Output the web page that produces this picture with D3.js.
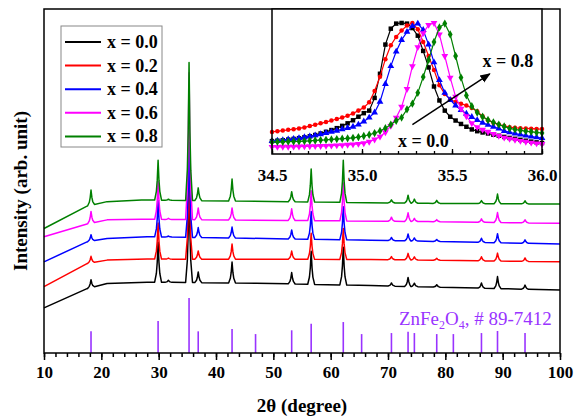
<!DOCTYPE html>
<html>
<head>
<meta charset="utf-8">
<script src="https://cdn.jsdelivr.net/npm/d3@7"></script>
<style>
  body { margin: 0; background: #fff; }
  svg { display: block; }
  text { font-family: "Liberation Serif", "Times New Roman", serif; }
</style>
</head>
<body>
<svg id="chart" width="579" height="420"></svg>
<script>
// XRD patterns of the doped ZnFe2O4 series with a zoom on the (311) reflection.

const series_labels = ["x = 0.0", "x = 0.2", "x = 0.4", "x = 0.6", "x = 0.8"];
const series_colors = ["#000000", "#ff0000", "#0000ff", "#ff00ff", "#008000"];

// reference card ZnFe2O4 # 89-7412 (2θ, relative stick height)
const ref_pos = [18.2, 29.9, 35.3, 36.9, 42.8, 46.9, 53.2, 56.6, 62.2, 65.4, 70.6, 73.5, 74.6, 78.5, 81.4, 86.3, 89.1, 93.9];
const ref_height = [6.3, 9.3, 16, 6.3, 7.0, 5.5, 6.6, 8.5, 9.0, 5.5, 5.8, 6.2, 5.8, 5.5, 5.5, 5.8, 6.4, 5.8];

// background of each pattern (2θ anchors, offset intensity)
const base_x = [
  [10, 17.5, 21, 28, 47, 67, 100],
  [10, 17.5, 21, 28, 67, 100],
  [10, 17.5, 21, 28, 67, 100],
  [10, 17.5, 21, 27, 77, 100],
  [10, 17.5, 21, 27, 77, 100],
];
const base_y = [
  [13.1, 18.7, 20.2, 20.6, 20.3, 19.6, 18.3],
  [19.3, 26.0, 27.0, 27.3, 27.2, 26.5],
  [26.5, 32.3, 33.3, 33.8, 32.8, 31.7],
  [33.8, 37.5, 38.7, 38.9, 38.2, 37.7],
  [36.2, 42.7, 44.0, 44.5, 43.5, 43.3],
];

// reflections seen in the measured patterns and their heights above background
const peak_pos = [18.2, 29.9, 31.7, 35.3, 36.9, 42.8, 53.2, 56.6, 62.2, 70.6, 73.5, 74.6, 78.5, 86.3, 89.1, 93.9];
const peak_height = [
  [2.3, 11.6, 0.6, 29.1, 3.1, 6.1, 3.3, 9.6, 11.0, 0.9, 2.6, 1.0, 0.7, 1.5, 3.5, 1.2],
  [1.9, 10.5, 0.3, 27.6, 2.4, 4.4, 2.4, 7.6, 9.0, 0.9, 1.9, 0.9, 0.6, 1.2, 2.3, 1.0],
  [1.9, 10.5, 0.3, 27.6, 2.9, 3.2, 2.6, 8.1, 9.6, 0.9, 2.0, 0.9, 0.6, 1.2, 2.6, 1.0],
  [3.4, 11.0, 0.3, 42.7, 3.4, 3.5, 3.4, 8.7, 11.0, 1.2, 2.5, 0.9, 0.6, 1.0, 2.9, 0.9],
  [4.4, 11.6, 0.3, 40.1, 3.7, 6.4, 2.9, 9.6, 12.2, 0.9, 2.3, 1.2, 0.9, 0.9, 2.8, 0.9],
];
// line profile of one reflection: [2θ offset, fraction of height]
const peak_shape = [[-0.6, 0], [-0.3, 0.22], [-0.15, 0.5], [0, 1], [0.15, 0.5], [0.3, 0.22], [0.6, 0]];

// inset: (311) reflection, normalised intensity
const inset_x = d3.range(51).map((i) => +(34.5 + 0.03 * i).toFixed(2));
const inset_y = [
  [0.07, 0.073, 0.077, 0.082, 0.087, 0.093, 0.10, 0.108, 0.118, 0.13, 0.143, 0.157, 0.172, 0.19, 0.21, 0.234, 0.262, 0.29, 0.31, 0.41, 0.60, 0.83, 0.955, 0.995, 1.0, 0.995, 0.96, 0.9, 0.78, 0.65, 0.50, 0.39, 0.31, 0.262, 0.232, 0.205, 0.183, 0.162, 0.148, 0.138, 0.13, 0.12, 0.112, 0.103, 0.095, 0.088, 0.08, 0.073, 0.066, 0.06, 0.055],
  [0.142, 0.148, 0.153, 0.159, 0.164, 0.17, 0.178, 0.188, 0.199, 0.21, 0.22, 0.232, 0.244, 0.255, 0.27, 0.288, 0.31, 0.335, 0.375, 0.465, 0.577, 0.715, 0.825, 0.89, 0.94, 0.98, 1.0, 0.95, 0.85, 0.74, 0.63, 0.51, 0.44, 0.40, 0.378, 0.365, 0.35, 0.33, 0.305, 0.265, 0.235, 0.215, 0.2, 0.188, 0.18, 0.175, 0.172, 0.17, 0.168, 0.166, 0.165],
  [0.07, 0.074, 0.078, 0.083, 0.088, 0.094, 0.10, 0.107, 0.115, 0.124, 0.134, 0.143, 0.152, 0.163, 0.173, 0.183, 0.2, 0.225, 0.255, 0.295, 0.38, 0.52, 0.66, 0.775, 0.866, 0.93, 0.975, 0.995, 0.945, 0.83, 0.69, 0.55, 0.45, 0.394, 0.35, 0.315, 0.285, 0.26, 0.235, 0.215, 0.198, 0.183, 0.168, 0.15, 0.14, 0.13, 0.121, 0.113, 0.106, 0.1, 0.094],
  [0.024, 0.024, 0.025, 0.025, 0.026, 0.027, 0.028, 0.029, 0.03, 0.031, 0.032, 0.034, 0.036, 0.038, 0.041, 0.044, 0.048, 0.053, 0.065, 0.083, 0.105, 0.14, 0.19, 0.255, 0.34, 0.48, 0.66, 0.81, 0.92, 0.985, 1.0, 0.91, 0.74, 0.57, 0.42, 0.325, 0.265, 0.21, 0.18, 0.16, 0.143, 0.127, 0.112, 0.097, 0.088, 0.08, 0.072, 0.065, 0.058, 0.052, 0.047],
  [0.063, 0.064, 0.065, 0.066, 0.067, 0.068, 0.07, 0.072, 0.075, 0.078, 0.08, 0.083, 0.086, 0.089, 0.092, 0.096, 0.102, 0.11, 0.12, 0.133, 0.15, 0.172, 0.2, 0.23, 0.255, 0.32, 0.365, 0.45, 0.575, 0.71, 0.85, 0.965, 0.995, 0.91, 0.74, 0.57, 0.43, 0.345, 0.295, 0.262, 0.236, 0.218, 0.2, 0.185, 0.17, 0.162, 0.155, 0.148, 0.143, 0.138, 0.134],
];
const inset_symbols = [d3.symbolSquare, d3.symbolCircle, d3.symbolTriangle, d3.symbolTriangle, d3.symbolDiamond];
const inset_ticks = [34.5, 35.0, 35.5, 36.0];

const svg = d3.select("#chart");
const margin = { top: 9, right: 19, bottom: 67, left: 44 };
const width = 579, height = 420;
const violet = "#9933ff";

const x = d3.scaleLinear().domain([10, 100]).range([margin.left, width - margin.right]);
const y = d3.scaleLinear().domain([0, 100]).range([height - margin.bottom, margin.top]);

function pattern_points(k) {
  const background = d3.scaleLinear().domain(base_x[k]).range(base_y[k]);
  const points = base_x[k]
    .map((t, i) => [t, base_y[k][i]])
    .filter(([t]) => peak_pos.every((p) => Math.abs(t - p) > 0.6));
  peak_pos.forEach((p, j) => {
    peak_shape.forEach(([dx, f]) => {
      points.push([p + dx, background(p + dx) + f * peak_height[k][j]]);
    });
  });
  return points.sort((a, b) => a[0] - b[0]);
}

// reference sticks
svg.append("g")
  .selectAll("line")
  .data(ref_pos)
  .join("line")
  .attr("x1", (d) => x(d)).attr("x2", (d) => x(d))
  .attr("y1", y(0)).attr("y2", (d, i) => y(ref_height[i]))
  .attr("stroke", violet)
  .attr("stroke-width", 1.6);

const ref_label = svg.append("text")
  .attr("x", x(71.9)).attr("y", y(8.1))
  .attr("font-size", 19)
  .attr("fill", violet);
ref_label.append("tspan").text("ZnFe");
ref_label.append("tspan").attr("font-size", 12).attr("dy", 4).text("2");
ref_label.append("tspan").attr("dy", -4).text("O");
ref_label.append("tspan").attr("font-size", 12).attr("dy", 4).text("4");
ref_label.append("tspan").attr("dy", -4).text(", # 89-7412");

// measured patterns
const main_line = d3.line().x((d) => x(d[0])).y((d) => y(d[1]));
series_labels.forEach((label, k) => {
  svg.append("path")
    .attr("d", main_line(pattern_points(k)))
    .attr("fill", "none")
    .attr("stroke", series_colors[k])
    .attr("stroke-width", 1.5)
    .attr("stroke-linejoin", "round");
});

// main frame and axis
svg.append("rect")
  .attr("x", margin.left).attr("y", margin.top)
  .attr("width", width - margin.left - margin.right)
  .attr("height", height - margin.top - margin.bottom)
  .attr("fill", "none").attr("stroke", "#000").attr("stroke-width", 1.5);

const x_minor = svg.append("g")
  .attr("transform", `translate(0,${y(0)})`)
  .call(d3.axisBottom(x).tickValues(d3.range(10, 101, 2)).tickSize(4).tickFormat(""));
const x_major = svg.append("g")
  .attr("transform", `translate(0,${y(0)})`)
  .call(d3.axisBottom(x).tickValues(d3.range(10, 101, 10)).tickSize(7).tickPadding(6).tickFormat(d3.format("d")));
[x_minor, x_major].forEach((g) => {
  g.select(".domain").remove();
  g.selectAll(".tick line").attr("stroke-width", 1.5);
});
x_major.selectAll("text")
  .attr("font-family", "Liberation Serif, serif")
  .attr("font-size", 17).attr("font-weight", "bold").attr("fill", "#000");

svg.append("text")
  .attr("x", 302).attr("y", 412)
  .attr("text-anchor", "middle")
  .attr("font-size", 19).attr("font-weight", "bold")
  .text("2θ (degree)");
svg.append("text")
  .attr("transform", "translate(27,191) rotate(-90)")
  .attr("text-anchor", "middle")
  .attr("font-size", 19).attr("font-weight", "bold")
  .text("Intensity (arb. unit)");

// legend
const legend = svg.append("g");
legend.append("rect")
  .attr("x", 61).attr("y", 26).attr("width", 101).attr("height", 121)
  .attr("fill", "#fff").attr("stroke", "#888").attr("stroke-width", 1);
series_labels.forEach((label, k) => {
  const row_y = 42 + k * 23.6;
  legend.append("line")
    .attr("x1", 65).attr("x2", 101).attr("y1", row_y).attr("y2", row_y)
    .attr("stroke", series_colors[k]).attr("stroke-width", 2);
  legend.append("text")
    .attr("x", 107).attr("y", row_y + 6)
    .attr("font-size", 18).attr("font-weight", "bold")
    .text(label);
});

// inset
const inset = { left: 272, right: 542, top: 9, bottom: 154 };
const ix = d3.scaleLinear().domain([34.5, 36.0]).range([inset.left, inset.right]);
const iy = d3.scaleLinear().domain([-0.0315, 1.11]).range([inset.bottom, inset.top]);

svg.append("rect")
  .attr("x", inset.left).attr("y", inset.top)
  .attr("width", inset.right - inset.left).attr("height", inset.bottom - inset.top)
  .attr("fill", "#fff");

const inset_line = d3.line().x((d) => ix(d[0])).y((d) => iy(d[1]));
series_labels.forEach((label, k) => {
  const points = inset_x.map((t, i) => [t, inset_y[k][i]]);
  svg.append("path")
    .attr("d", inset_line(points))
    .attr("fill", "none")
    .attr("stroke", series_colors[k])
    .attr("stroke-width", 1.2);
  const symbol = d3.symbol().type(inset_symbols[k]).size(k === 1 ? 16 : 20);
  svg.append("g")
    .selectAll("path")
    .data(points)
    .join("path")
    .attr("d", symbol)
    .attr("transform", (d) => `translate(${ix(d[0])},${iy(d[1])})${k === 3 ? " rotate(180)" : ""}`)
    .attr("fill", series_colors[k]);
});

svg.append("defs").append("marker")
  .attr("id", "arrow_head")
  .attr("viewBox", "0 0 10 10")
  .attr("refX", 9).attr("refY", 5)
  .attr("markerWidth", 7).attr("markerHeight", 7)
  .attr("orient", "auto")
  .append("path").attr("d", "M0,1 L10,5 L0,9 Z").attr("fill", "#000");
svg.append("line")
  .attr("x1", ix(35.28)).attr("y1", iy(0.2))
  .attr("x2", ix(35.71)).attr("y2", iy(0.6))
  .attr("stroke", "#000").attr("stroke-width", 1.5)
  .attr("marker-end", "url(#arrow_head)");
svg.append("text")
  .attr("x", ix(35.67)).attr("y", iy(0.65))
  .attr("font-size", 18).attr("font-weight", "bold")
  .text("x = 0.8");
svg.append("text")
  .attr("x", ix(35.2)).attr("y", iy(0.024))
  .attr("font-size", 18).attr("font-weight", "bold")
  .text("x = 0.0");

svg.append("rect")
  .attr("x", inset.left).attr("y", inset.top)
  .attr("width", inset.right - inset.left).attr("height", inset.bottom - inset.top)
  .attr("fill", "none").attr("stroke", "#000").attr("stroke-width", 1.5);

const inset_minor = svg.append("g")
  .attr("transform", `translate(0,${inset.bottom})`)
  .call(d3.axisBottom(ix).tickValues(d3.range(16).map((i) => 34.5 + 0.1 * i)).tickSizeInner(-3).tickSizeOuter(0).tickFormat(""));
const inset_major = svg.append("g")
  .attr("transform", `translate(0,${inset.bottom})`)
  .call(d3.axisBottom(ix).tickValues(inset_ticks).tickSizeInner(-5).tickSizeOuter(0).tickPadding(15).tickFormat(d3.format(".1f")));
[inset_minor, inset_major].forEach((g) => {
  g.select(".domain").remove();
  g.selectAll(".tick line").attr("stroke-width", 1.3);
});
inset_major.selectAll("text")
  .attr("font-family", "Liberation Serif, serif")
  .attr("font-size", 17).attr("font-weight", "bold").attr("fill", "#000");
</script>
</body>
</html>
